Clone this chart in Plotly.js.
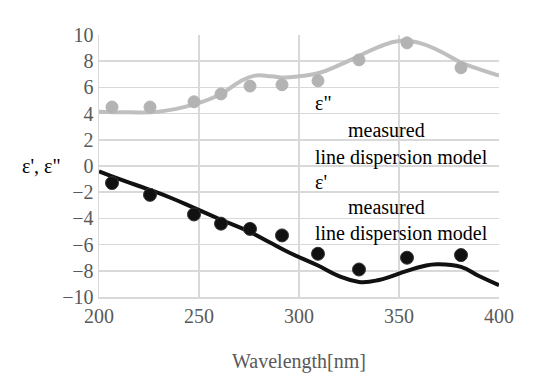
<!DOCTYPE html>
<html><head><meta charset="utf-8">
<script src="https://cdn.plot.ly/plotly-3.0.1.min.js"></script>
<style>html,body{margin:0;padding:0;background:#fff}#chart{width:540px;height:390px}</style>
</head><body><div id="chart"></div>
<script>
// measured data
const measX = [206.5, 225.5, 247.5, 261, 275.5, 291.5, 309.5, 330, 354, 381];
const epsImagMeas = [4.5, 4.5, 4.9, 5.5, 6.1, 6.2, 6.5, 8.1, 9.4, 7.5];
const epsRealMeas = [-1.3, -2.2, -3.7, -4.4, -4.8, -5.3, -6.7, -7.9, -7.0, -6.8];
// line dispersion model
const modelImagX = [200, 215, 230, 247.5, 261, 270, 278, 286, 293, 300, 310, 320, 330, 340, 350, 360, 370, 381, 390, 400];
const modelImagY = [4.15, 4.1, 4.15, 4.7, 5.5, 6.4, 6.9, 6.85, 6.75, 6.85, 7.1, 7.7, 8.4, 9.1, 9.55, 9.4, 8.8, 7.9, 7.4, 6.9];
const modelRealX = [200, 212, 225, 237, 247.5, 261, 275, 285, 295, 309.5, 320, 330, 340, 354, 362, 369, 381, 390, 400];
const modelRealY = [-0.4, -1.1, -1.8, -2.5, -3.2, -4.1, -5.0, -5.8, -6.6, -7.6, -8.4, -8.85, -8.7, -8.0, -7.65, -7.5, -7.7, -8.4, -9.1];
const xTicks = [200, 250, 300, 350, 400];
const yTicks = [-10, -8, -6, -4, -2, 0, 2, 4, 6, 8, 10];
const EPS = '\u03b5';

const gray = '#bfbfbf';
const grayMarker = '#b3b3b3';
const black = '#111111';
const FAM = 'Liberation Serif';
const FS = 20;

const traces = [
  {x: modelImagX, y: modelImagY, mode: 'lines', line: {color: gray, width: 4, shape: 'spline', smoothing: 1.3}},
  {x: measX, y: epsImagMeas, mode: 'markers', marker: {color: grayMarker, size: 12, line: {color: grayMarker, width: 1}}},
  {x: modelRealX, y: modelRealY, mode: 'lines', line: {color: black, width: 4, shape: 'spline', smoothing: 1.3}},
  {x: measX, y: epsRealMeas, mode: 'markers', marker: {color: black, size: 13, line: {color: '#333', width: 1}}}
];

function px2x(px){ return 200 + (px - 99) / 2; }
function px2y(py){ return (166 - py) / 13.1; }
const ann = [];
function addText(txt, px, py){ ann.push({text: txt, x: (px - 99) / 400, y: (297 - py) / 262, xref: 'paper', yref: 'paper', xanchor: 'left', yanchor: 'middle', showarrow: false, font: {family: FAM, size: FS, color: '#000'}}); }
addText(EPS + '"', 313, 103);
addText('measured', 346, 130);
addText('line dispersion model', 313, 157);
addText(EPS + "'", 313, 182);
addText('measured', 346, 207);
addText('line dispersion model', 313, 233);
addText(EPS + "', " + EPS + '"', 20, 166);

const layout = {
  width: 540, height: 390,
  margin: {l: 99, r: 41, t: 35, b: 93},
  xaxis: {range: [200, 400], tickvals: xTicks, showgrid: true, gridcolor: '#d9d9d9', gridwidth: 1.5,
          zeroline: false, showline: true, linecolor: '#d9d9d9', linewidth: 1.5,
          tickfont: {family: FAM, size: FS, color: '#595959'},
          title: {text: 'Wavelength[nm]', font: {family: FAM, size: FS, color: '#595959'}}},
  yaxis: {range: [-10, 10], tickvals: yTicks, showgrid: true, gridcolor: '#d9d9d9', gridwidth: 1.5,
          zeroline: false, showline: true, linecolor: '#d9d9d9', linewidth: 1.5,
          tickfont: {family: FAM, size: FS, color: '#595959'}},
  annotations: ann,
  showlegend: false
};
Plotly.newPlot('chart', traces, layout, {staticPlot: true});
</script></body></html>
